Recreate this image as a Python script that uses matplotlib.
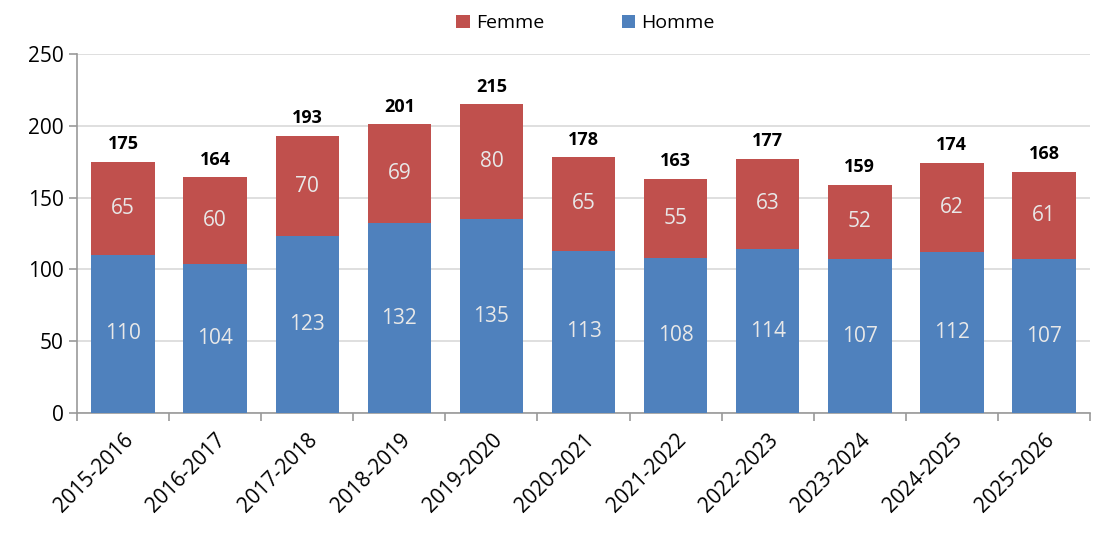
import matplotlib
matplotlib.use("Agg")
import matplotlib.pyplot as plt
import numpy as np

years = ["2015-2016", "2016-2017", "2017-2018", "2018-2019", "2019-2020", "2020-2021",
         "2021-2022", "2022-2023", "2023-2024", "2024-2025", "2025-2026"]
homme = [110, 104, 123, 132, 135, 113, 108, 114, 107, 112, 107]
femme = [65, 60, 70, 69, 80, 65, 55, 63, 52, 62, 61]
totals = [175, 164, 193, 201, 215, 178, 163, 177, 159, 174, 168]

plt.rcParams["font.family"] = ["Open Sans", "DejaVu Sans"]

fig = plt.figure(figsize=(11.01, 5.36), dpi=100)
ax = fig.add_axes([0.070, 0.2295, 0.920, 0.670])

x = np.arange(len(years))
blue = "#4f81bd"
red = "#c0504d"
w = 0.69
ax.bar(x, homme, w, color=blue, label="Homme", zorder=3)
ax.bar(x, femme, w, bottom=homme, color=red, label="Femme", zorder=3)

for i in range(len(years)):
    ax.text(x[i], homme[i] / 2, str(homme[i]), ha="center", va="center",
            color="#e8e8e8", fontsize=15, zorder=4)
    ax.text(x[i], homme[i] + femme[i] / 2, str(femme[i]), ha="center", va="center",
            color="#e8e8e8", fontsize=15, zorder=4)
    ax.text(x[i], totals[i] + 6, str(totals[i]), ha="center", va="bottom",
            color="black", fontsize=13, fontweight="bold", zorder=4)

ax.set_xlim(-0.5, len(years) - 0.5)
ax.set_ylim(0, 250)
ax.set_yticks(range(0, 251, 50))
ax.yaxis.grid(True, color="#d9d9d9", linewidth=1.2, zorder=0)
ax.set_axisbelow(True)

ax.set_xticks(x)
ax.set_xticklabels(years, rotation=45, ha="right", rotation_mode="anchor", fontsize=15)
ax.set_xticks(np.arange(-0.5, len(years), 1), minor=True)
ax.tick_params(axis="x", which="major", length=0, pad=12)
ax.tick_params(axis="x", which="minor", length=6, color="#999999", width=1.2)
ax.tick_params(axis="y", length=6, color="#999999", width=1.2, labelsize=15)

for s in ["top", "right"]:
    ax.spines[s].set_visible(False)
for s in ["left", "bottom"]:
    ax.spines[s].set_color("#999999")
    ax.spines[s].set_linewidth(1.2)

handles, labels = ax.get_legend_handles_labels()
ax.legend(handles[::-1], labels[::-1], loc="center", bbox_to_anchor=(0.502, 1.085),
          ncol=2, frameon=False, fontsize=14, handlelength=0.7, handleheight=0.7,
          columnspacing=4.0, handletextpad=0.3)

fig.savefig("out.png", dpi=100)
